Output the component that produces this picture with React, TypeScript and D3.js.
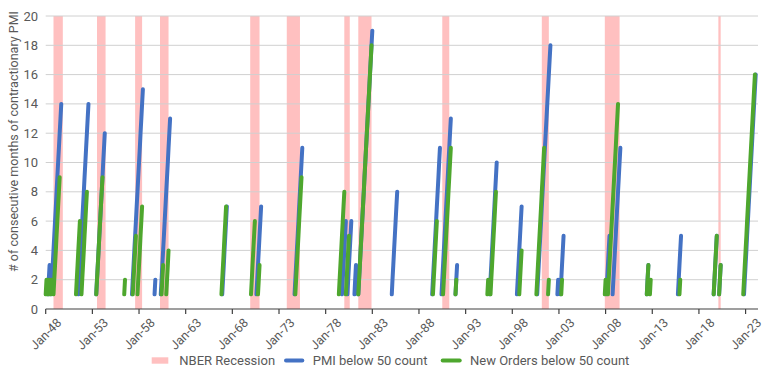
import React, { useEffect, useRef } from "react";
import * as d3 from "d3";

// Runs of consecutive months below 50: [year, month (1-12), length of run]
const pmiRuns: [number, number, number][] = [
  [1948, 4, 3], [1948, 8, 14], [1951, 7, 14], [1953, 6, 12], [1957, 4, 15],
  [1959, 9, 2], [1960, 5, 13], [1966, 12, 7], [1970, 8, 7], [1974, 9, 11],
  [1979, 10, 6], [1980, 5, 6], [1981, 2, 3], [1981, 7, 19], [1985, 2, 8],
  [1989, 6, 11], [1990, 6, 13], [1991, 12, 3], [1995, 8, 10], [1998, 7, 7],
  [2000, 9, 18], [2002, 11, 2], [2003, 3, 5], [2008, 2, 5], [2008, 10, 11],
  [2012, 6, 3], [2015, 10, 5], [2019, 8, 5], [2020, 3, 3], [2022, 11, 16],
];

const newOrdersRuns: [number, number, number][] = [
  [1948, 1, 2], [1948, 4, 2], [1948, 7, 2], [1948, 11, 9], [1951, 4, 6],
  [1951, 11, 8], [1953, 6, 9], [1956, 6, 2], [1957, 5, 5], [1957, 11, 7],
  [1960, 6, 3], [1960, 12, 4], [1966, 11, 7], [1970, 1, 6], [1970, 10, 3],
  [1974, 10, 9], [1979, 6, 8], [1980, 3, 5], [1981, 7, 18], [1989, 7, 6],
  [1990, 8, 11], [1991, 12, 2], [1995, 5, 2], [1995, 9, 8], [1998, 10, 4],
  [2000, 8, 11], [2001, 11, 2], [2003, 4, 2], [2007, 12, 2], [2008, 4, 14],
  [2012, 6, 3], [2012, 10, 2], [2015, 12, 2], [2019, 8, 5], [2020, 3, 3],
  [2022, 10, 16],
];

// NBER recessions: [startYear, startMonth, endYear, endMonth]
const recessions: [number, number, number, number][] = [
  [1948, 11, 1949, 10], [1953, 7, 1954, 5], [1957, 8, 1958, 4], [1960, 4, 1961, 2],
  [1969, 12, 1970, 11], [1973, 11, 1975, 3], [1980, 1, 1980, 7], [1981, 7, 1982, 11],
  [1990, 7, 1991, 3], [2001, 3, 2001, 11], [2007, 12, 2009, 6], [2020, 2, 2020, 4],
];

const tickYears = [1948, 1953, 1958, 1963, 1968, 1973, 1978, 1983, 1988, 1993, 1998, 2003, 2008, 2013, 2018, 2023];
const yTicks = [0, 2, 4, 6, 8, 10, 12, 14, 16, 18, 20];

const COLORS = { pmi: "#4472C4", no: "#4EA72E", rec: "#FFC0C0", text: "#595959", grid: "#D0D0D0" };
const FONT = "Roboto, 'Noto Sans', sans-serif";

type Pt = { date: Date; v: number | null };

function expand(runs: [number, number, number][]): Pt[] {
  const pts: Pt[] = [];
  runs.forEach(([y, m, n]) => {
    for (let k = 0; k < n; k++) pts.push({ date: new Date(y, m - 1 + k, 1), v: k + 1 });
    pts.push({ date: new Date(y, m - 1 + n, 1), v: null });
  });
  return pts;
}

export default function App() {
  const ref = useRef<SVGSVGElement>(null);
  useEffect(() => {
    const svg = d3.select(ref.current);
    svg.selectAll("*").remove();
    const W = 770, H = 374;
    const left = 45.7, right = 758, top = 16, bottom = 309;
    const x = d3.scaleTime().domain([new Date(1948, 0, 1), new Date(2024, 4, 1)]).range([left, right]);
    const y = d3.scaleLinear().domain([0, 20]).range([bottom, top]);

    svg.append("rect").attr("width", W).attr("height", H).attr("fill", "#fff");

    // recession bands
    svg.append("g").selectAll("rect").data(recessions).join("rect")
      .attr("x", d => x(new Date(d[0], d[1] - 1, 1)))
      .attr("width", d => x(new Date(d[2], d[3], 1)) - x(new Date(d[0], d[1] - 1, 1)))
      .attr("y", top).attr("height", bottom - top).attr("fill", COLORS.rec);

    // gridlines
    svg.append("g").selectAll("line").data(yTicks.filter(t => t > 0)).join("line")
      .attr("x1", left).attr("x2", right).attr("y1", d => y(d)).attr("y2", d => y(d))
      .attr("stroke", COLORS.grid).attr("stroke-width", 1);

    // y tick labels
    svg.append("g").selectAll("text").data(yTicks).join("text")
      .attr("x", 38).attr("y", d => y(d)).attr("dy", "0.35em").attr("text-anchor", "end")
      .attr("font-family", FONT).attr("font-size", 13).attr("fill", COLORS.text).text(d => d);

    // lines
    const line = d3.line<Pt>().defined(d => d.v !== null).x(d => x(d.date)).y(d => y(d.v as number));
    [[pmiRuns, COLORS.pmi], [newOrdersRuns, COLORS.no]].forEach(([runs, c]) => {
      svg.append("path").datum(expand(runs as [number, number, number][]))
        .attr("d", line).attr("fill", "none").attr("stroke", c as string)
        .attr("stroke-width", 4).attr("stroke-linecap", "round").attr("stroke-linejoin", "round");
    });

    // x axis
    svg.append("line").attr("x1", left).attr("x2", right).attr("y1", bottom).attr("y2", bottom)
      .attr("stroke", "#404040").attr("stroke-width", 1.2);
    const tg = svg.append("g").selectAll("g").data(tickYears.map(yy => new Date(yy, 0, 1))).join("g")
      .attr("transform", d => `translate(${x(d)},0)`);
    tg.append("line").attr("y1", bottom).attr("y2", bottom + 5).attr("stroke", "#404040").attr("stroke-width", 1.2);
    tg.append("text").attr("transform", "translate(0,334) rotate(-45)")
      .attr("text-anchor", "middle").attr("dy", "0.35em")
      .attr("font-family", FONT).attr("font-size", 12.5).attr("fill", COLORS.text)
      .text(d => d3.timeFormat("%b-%y")(d));

    // y label
    svg.append("text").attr("transform", `translate(13.5,141.5) rotate(-90)`)
      .attr("text-anchor", "middle").attr("dy", "0.35em")
      .attr("font-family", FONT).attr("font-size", 12.5).attr("fill", COLORS.text)
      .text("# of consecutive months of contractionary PMI");

    // legend
    const ly = 360.5;
    const lg = svg.append("g").attr("font-family", FONT).attr("font-size", 13).attr("fill", COLORS.text);
    lg.append("rect").attr("x", 151.7).attr("y", ly - 3.2).attr("width", 16.6).attr("height", 6.4).attr("fill", COLORS.rec);
    lg.append("text").attr("x", 179.3).attr("y", ly).attr("dy", "0.35em").text("NBER Recession");
    lg.append("line").attr("x1", 286).attr("x2", 302.3).attr("y1", ly).attr("y2", ly)
      .attr("stroke", COLORS.pmi).attr("stroke-width", 4).attr("stroke-linecap", "round");
    lg.append("text").attr("x", 312.7).attr("y", ly).attr("dy", "0.35em").text("PMI below 50 count");
    lg.append("line").attr("x1", 442.7).attr("x2", 459.7).attr("y1", ly).attr("y2", ly)
      .attr("stroke", COLORS.no).attr("stroke-width", 4).attr("stroke-linecap", "round");
    lg.append("text").attr("x", 470).attr("y", ly).attr("dy", "0.35em").text("New Orders below 50 count");
  }, []);
  return (
    <svg ref={ref} width={770} height={374}
      style={{ position: "absolute", left: 0, top: 0, display: "block" }} />
  );
}
